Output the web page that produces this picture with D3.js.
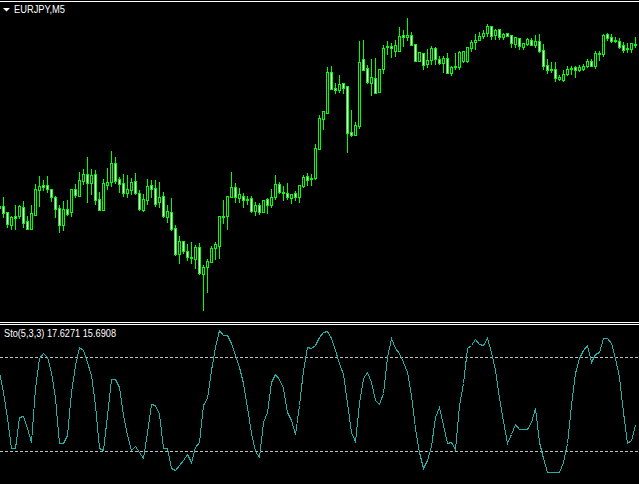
<!DOCTYPE html>
<html>
<head>
<meta charset="utf-8">
<script src="https://cdn.jsdelivr.net/npm/d3@7"></script>
<style>
  html, body { margin: 0; padding: 0; background: #000; overflow: hidden; }
  svg { display: block; }
</style>
</head>
<body>
<div id="chart"></div>
<script>
// Data
// ============================================================================
const symbol = "EURJPY,M5";
const stoLabel = "Sto(5,3,3) 17.6271 15.6908";
const stoLevels = [20, 80];

// prices, in points above the chart's base level
const open = [
    194,194,188,175,184,184,193,179,171,185, 210,215,215,211,203,192,175,191,188,211,
    204,219,226,217,226,201,190,215,218,237, 221,217,207,210,219,207,190,200,215,212,
    198,204,183,188,172,146,159,149,143,141, 153,126,133,138,152,154,183,184,203,213,
    202,204,201,202,189,195,188,201,195,203, 216,208,207,202,207,203,214,224,221,222,
    251,281,287,328,312,310,317,314,268,265, 274,341,332,317,322,308,331,353,354,349,
    349,365,363,365,356,339,347,336,340,352, 341,337,342,327,334,333,339,339,352,358,
    360,364,367,374,365,371,363,367,365,356, 362,353,356,360,355,359,350,335,331,331,
    321,320,326,331,333,330,331,334,339,334, 347,346,366,363,360,359,355,352,351,355];
const high = [
    196,203,188,184,195,195,199,184,195,216, 224,220,224,211,204,195,199,200,211,216,
    228,231,243,231,230,208,221,232,249,243, 223,226,225,222,227,210,206,221,220,220,
    218,208,195,202,175,164,159,156,158,155, 157,135,141,154,158,184,200,204,228,217,
    212,207,204,204,198,197,200,202,211,225, 218,214,217,206,209,215,225,227,226,256,
    285,289,333,334,317,325,317,314,290,278, 359,360,335,341,342,331,355,359,357,360,
    373,370,382,368,356,348,347,351,354,353, 344,344,347,334,347,349,349,353,360,366,
    368,370,376,374,371,371,367,367,365,363, 362,357,362,362,365,366,356,341,338,338,
    325,330,334,334,334,335,336,341,341,349, 349,366,367,366,363,362,358,357,357,363];
const low = [
    190,183,173,171,171,182,173,171,171,185, 194,210,208,199,183,168,170,185,184,203,
    204,216,198,206,196,190,190,211,214,217, 208,204,203,206,206,190,189,196,203,194,
    193,183,178,170,145,137,147,140,137,132, 126, 90,108,138,141,142,177,171,203,198,
    198,193,196,188,185,186,188,187,193,201, 207,200,201,197,200,198,213,215,215,221,
    251,271,287,311,307,308,307,248,264,265, 272,330,317,305,307,308,327,346,343,344,
    349,354,360,355,339,339,331,333,336,336, 336,328,327,325,331,331,338,338,349,351,
    360,362,364,361,361,361,361,364,353,353, 351,351,355,355,353,348,331,327,328,319,
    320,319,325,326,323,329,330,333,334,332, 340,344,360,358,358,352,348,348,348,353];
const close = [
    192,187,176,183,182,194,177,171,187,211, 214,213,211,203,191,175,191,186,211,205,
    220,226,217,225,200,190,217,218,237,219, 216,207,211,218,207,191,201,214,211,196,
    203,184,189,171,146,159,149,143,142,153, 127,133,139,152,156,184,184,204,213,203,
    206,200,200,189,195,188,200,195,203,216, 208,207,203,206,203,215,223,220,222,252,
    282,289,328,311,310,316,312,267,265,275, 338,330,318,323,307,331,352,354,352,355,
    364,363,365,355,339,348,335,340,352,341, 337,342,327,333,333,348,349,353,358,360,
    364,367,374,364,370,363,366,364,357,363, 354,357,361,355,359,349,334,330,330,322,
    323,326,331,332,330,333,334,339,334,347, 346,365,362,359,359,353,350,351,357,356];

// stochastic main line, one value per bar
const stoMain = [
    70.6,57.9,40.9,21.7,21.7,41.9,42.6,34.5,26.0,60.0, 79.1,82.8,80.2,70.6,53.6,24.9,25.3,30.2,57.9,74.9,
    86.6,84.5,77.0,68.5,49.4,21.7,20.6,43.0,66.0,65.7, 61.1,43.0,30.2,20.6,23.4,19.6,15.7,32.3,49.8,49.4,
    43.4,21.7,22.1, 8.9, 7.7,11.1,14.3,17.9,13.2,22.8, 25.5,49.4,53.6,71.7,86.6,97.2,94.0,94.0,88.7,81.3,
    73.8,63.2,48.3,31.3,20.0,16.2,38.7,45.1,64.3,68.9, 66.0,60.4,45.1,39.8,30.6,49.4,71.7,86.2,85.5,87.7,
    93.0,96.2,96.6,91.9,84.5,76.0,68.9,50.4,32.3,26.4, 50.4,66.4,70.6,64.3,52.6,49.8,56.8,80.2,91.9,86.0,
    82.3,77.0,70.6,55.7,34.5,19.6, 9.4,14.3,23.4,41.9, 48.3,36.6,24.9,26.0,21.3,49.4,63.2,85.5,87.7,91.3,
    88.3,87.7,91.9,83.4,71.7,53.6,39.1,24.9,30.6,37.0, 33.8,33.8,33.8,38.7,47.7,26.0,15.3, 6.6, 6.6, 6.6,
     6.6,13.2,24.9,49.4,69.6,79.6,84.5,87.7,77.0,81.7, 83.0,92.3,92.3,88.7,79.1,67.4,45.1,24.9,27.0,36.6];

// Layout
// ============================================================================
const width = 639, height = 484,
    mainPane = {top: 18, bottom: 310},
    stoPane = {top: 325.67, bottom: 482.33},
    lime = "#00ff00", seaGreen = "#20b2aa";

// Plot
// ============================================================================
let svg = d3.select("#chart")
    .append("svg")
        .attr("width", width)
        .attr("height", height)
        .style("background", "#000");

let bars = d3.range(open.length).map(i => ({
    i: i, o: open[i], h: high[i], l: low[i], c: close[i]
}));

// Scales
let xScale = d3.scaleLinear()
    .domain([0, bars.length - 1])
    .range([-1, 635]);

let yPrice = d3.scaleLinear()
    .domain([d3.min(low), d3.max(high)])
    .range([mainPane.bottom, mainPane.top]);

let ySto = d3.scaleLinear()
    .domain([0, 100])
    .range([stoPane.bottom, stoPane.top]);

// Frame lines
svg.append("rect").attr("x", 0).attr("y", 1).attr("width", width).attr("height", 1).attr("fill", "#fff");
svg.append("rect").attr("x", 0).attr("y", 322).attr("width", width).attr("height", 1).attr("fill", "#fff");
svg.append("rect").attr("x", 0).attr("y", 324).attr("width", width).attr("height", 1).attr("fill", "#fff");

// Candles
let candles = svg.append("g")
    .selectAll("g")
    .data(bars)
    .join("g");

// wicks
candles.append("rect")
    .attr("x", d => Math.round(xScale(d.i)))
    .attr("y", d => Math.round(yPrice(d.h)))
    .attr("width", 1)
    .attr("height", d => Math.round(yPrice(d.l)) - Math.round(yPrice(d.h)) + 1)
    .attr("fill", lime);

// body outline
candles.append("rect")
    .attr("x", d => Math.round(xScale(d.i)) - 1)
    .attr("y", d => Math.round(yPrice(Math.max(d.o, d.c))))
    .attr("width", 3)
    .attr("height", d => Math.round(yPrice(Math.min(d.o, d.c))) - Math.round(yPrice(Math.max(d.o, d.c))) + 1)
    .attr("fill", lime);

// body inside: white for bear, black for bull
candles.filter(d => Math.round(yPrice(Math.min(d.o, d.c))) - Math.round(yPrice(Math.max(d.o, d.c))) >= 2)
    .append("rect")
    .attr("x", d => Math.round(xScale(d.i)))
    .attr("y", d => Math.round(yPrice(Math.max(d.o, d.c))) + 1)
    .attr("width", 1)
    .attr("height", d => Math.round(yPrice(Math.min(d.o, d.c))) - Math.round(yPrice(Math.max(d.o, d.c))) - 1)
    .attr("fill", d => d.c < d.o ? "#fff" : "#000");

// Symbol title
svg.append("path")
    .attr("d", "M3,8 L10,8 L6.5,11.5 Z")
    .attr("fill", "#fff");

svg.append("text")
    .attr("x", 14)
    .attr("y", 13)
    .attr("fill", "#fff")
    .attr("font-family", "Liberation Sans, Arial, sans-serif")
    .attr("font-size", 10.5)
    .attr("textLength", 51)
    .attr("lengthAdjust", "spacingAndGlyphs")
    .text(symbol);

// Stochastic levels
svg.append("g")
    .selectAll("line")
    .data(stoLevels)
    .join("line")
        .attr("x1", 0)
        .attr("x2", width)
        .attr("y1", d => Math.round(ySto(d)) + 0.5)
        .attr("y2", d => Math.round(ySto(d)) + 0.5)
        .attr("stroke", "#c0c0c0")
        .attr("stroke-width", 1)
        .attr("stroke-dasharray", "3,2");

// Stochastic line
svg.append("path")
    .datum(stoMain)
        .attr("fill", "none")
        .attr("stroke", seaGreen)
        .attr("stroke-width", 1)
        .attr("shape-rendering", "crispEdges")
        .attr("d", d3.line()
            .x((d, i) => Math.round(xScale(i)) + 0.5)
            .y(d => Math.round(ySto(d)) + 0.5));

svg.append("text")
    .attr("x", 4)
    .attr("y", 337)
    .attr("fill", "#fff")
    .attr("font-family", "Liberation Sans, Arial, sans-serif")
    .attr("font-size", 10.5)
    .attr("textLength", 112)
    .attr("lengthAdjust", "spacingAndGlyphs")
    .text(stoLabel);
</script>
</body>
</html>
